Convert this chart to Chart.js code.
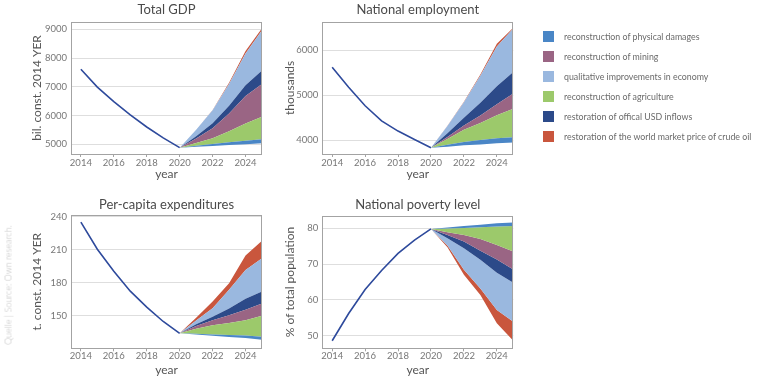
<!DOCTYPE html>
<html>
<head>
<meta charset="utf-8">
<script src="https://cdn.jsdelivr.net/npm/chart.js@4.4.1/dist/chart.umd.min.js"></script>
<style>
  body { margin: 0; background: #fff; font-family: Lato, sans-serif; }
  #page { position: relative; width: 770px; height: 378px; overflow: hidden; }
  .box { position: absolute; }
  #legend { position: absolute; left: 543px; top: 31px; }
  .item { position: relative; height: 20px; }
  .item span.sq { position: absolute; left: 0; top: 0; width: 11px; height: 11px; }
  .item span.txt { position: absolute; left: 21px; top: -1px; font-size: 8.8px; color: #6a6a6a; white-space: nowrap; line-height: 13px; }
  #source { position: absolute; left: 8px; top: 285px; transform: translate(-50%, -50%) rotate(-90deg);
            font-size: 9px; color: #c4c4c4; white-space: nowrap; font-weight: 300; }
</style>
</head>
<body>
<div id="page">
  <div class="box" style="left:0;top:0"><canvas id="gdpChart" width="270" height="185"></canvas></div>
  <div class="box" style="left:260px;top:0"><canvas id="empChart" width="260" height="185"></canvas></div>
  <div class="box" style="left:0;top:190px"><canvas id="pcChart" width="270" height="188"></canvas></div>
  <div class="box" style="left:260px;top:190px"><canvas id="povChart" width="260" height="188"></canvas></div>
  <div id="legend"></div>
  <div id="source">Quelle | Source: Own research.</div>
</div>
<script>
// years
const histYears = [2014, 2015, 2016, 2017, 2018, 2019, 2020];
const projYears = [2020, 2021, 2022, 2023, 2024, 2025];
const xTicks = [2014, 2016, 2018, 2020, 2022, 2024];

// Total GDP (bil. const. 2014 YER)
const gdpHistory = [7610, 6990, 6480, 6020, 5600, 5220, 4880];
const gdpBase = [4880, 4910, 4940, 4970, 5000, 5035];
const gdpPhysical = [0, 35, 70, 100, 125, 140];
const gdpAgriculture = [0, 95, 200, 380, 600, 780];
const gdpMining = [0, 160, 350, 620, 950, 1140];
const gdpUsd = [0, 80, 170, 270, 380, 470];
const gdpQualitative = [0, 220, 450, 760, 1100, 1400];
const gdpOil = [0, 5, 10, 40, 90, 70];
const gdpTicks = [5000, 6000, 7000, 8000, 9000];

// National employment (thousands)
const empHistory = [5620, 5175, 4765, 4430, 4205, 4020, 3835];
const empBase = [3835, 3860, 3890, 3910, 3935, 3950];
const empPhysical = [0, 40, 75, 95, 110, 120];
const empAgriculture = [0, 130, 270, 380, 510, 630];
const empMining = [0, 45, 95, 165, 245, 335];
const empUsd = [0, 80, 170, 280, 400, 480];
const empQualitative = [0, 160, 345, 600, 880, 960];
const empOil = [0, 5, 10, 30, 60, 20];
const empTicks = [4000, 5000, 6000];

// Per-capita expenditures (t. const. 2014 YER)
const pcHistory = [235, 210.5, 190.5, 172.5, 158, 145, 134.3];
const pcBase = [134.3, 133.2, 132, 131, 130, 128.5];
const pcPhysical = [0, 0.7, 1.2, 1.7, 2.2, 2.7];
const pcAgriculture = [0, 4.5, 8.5, 11, 14, 19];
const pcMining = [0, 2.5, 4.5, 7, 9.5, 11];
const pcUsd = [0, 1.5, 3.2, 6, 10, 11];
const pcQualitative = [0, 3.5, 7.6, 17, 26, 30];
const pcOil = [0, 2.5, 6, 6, 13, 16];
const pcTicks = [150, 180, 210, 240];

// National poverty level (% of total population) - reductions are negative
const povHistory = [48.6, 56.2, 62.9, 68.2, 73.0, 76.7, 79.8];
const povBase = [79.8, 80.2, 80.6, 81.0, 81.4, 81.6];
const povPhysical = [0, -0.3, -0.5, -0.7, -0.9, -1.0];
const povAgriculture = [0, -1.0, -2.0, -3.3, -5.2, -7.1];
const povMining = [0, -0.8, -1.8, -3.3, -4.0, -5.0];
const povUsd = [0, -0.9, -1.9, -2.5, -3.7, -3.7];
const povQualitative = [0, -2.0, -6.0, -8.0, -10.4, -10.9];
const povOil = [0, -0.5, -1.4, -1.8, -3.7, -5.3];
const povTicks = [50, 60, 70, 80];

// legend labels (legend order) and colours
const legendKeys = ['physical', 'mining', 'qualitative', 'agriculture', 'usd', 'oil'];
const legendLabels = {
  physical: 'reconstruction of physical damages',
  mining: 'reconstruction of mining',
  qualitative: 'qualitative improvements in economy',
  agriculture: 'reconstruction of agriculture',
  usd: 'restoration of offical USD inflows',
  oil: 'restoration of the world market price of crude oil'
};
const colors = {
  physical: '#4a86c6',
  mining: '#9a6584',
  qualitative: '#9ab8df',
  agriculture: '#9cc96b',
  usd: '#2c4a89',
  oil: '#c9563d'
};
const lineColor = '#2e4a9c';
const frameColor = '#a3a3a3';
// stacking order from the baseline outward
const stackKeys = ['physical', 'agriculture', 'mining', 'usd', 'qualitative', 'oil'];

function toPoints(xs, ys) {
  return xs.map((x, i) => ({ x: x, y: ys[i] }));
}

// running totals of the layers on top of the baseline
function stackUp(base, layers) {
  let out = [];
  let run = base.slice();
  layers.forEach(layer => {
    run = run.map((v, i) => v + layer[i]);
    out.push(run.slice());
  });
  return out;
}

// grey box around the plot area
const framePlugin = {
  id: 'plotFrame',
  afterDraw(chart) {
    const a = chart.chartArea;
    const ctx = chart.ctx;
    const l = Math.round(a.left), r = Math.round(a.right), t = Math.round(a.top), b = Math.round(a.bottom);
    ctx.save();
    ctx.strokeStyle = frameColor;
    ctx.lineWidth = 1;
    ctx.strokeRect(l + 0.5, t + 0.5, r - l - 1, b - t);
    ctx.restore();
  }
};

function makeChart(id, cfg) {
  const stacked = stackUp(cfg.base, cfg.layers);
  let datasets = [];
  datasets.push({ data: toPoints(projYears, cfg.base), borderColor: 'transparent', borderWidth: 0, pointRadius: 0, fill: false });
  stacked.forEach((vals, i) => {
    datasets.push({
      data: toPoints(projYears, vals),
      backgroundColor: colors[stackKeys[i]],
      borderColor: 'transparent',
      borderWidth: 0,
      pointRadius: 0,
      fill: '-1'
    });
  });
  datasets.push({ data: toPoints(histYears, cfg.history), borderColor: lineColor, borderWidth: 1.6, pointRadius: 0, fill: false });

  return new Chart(document.getElementById(id), {
    type: 'line',
    data: { datasets: datasets },
    plugins: [framePlugin],
    options: {
      responsive: false,
      animation: false,
      layout: { padding: cfg.padding },
      elements: { line: { tension: 0 } },
      plugins: {
        legend: { display: false },
        tooltip: { enabled: false },
        title: {
          display: true,
          fullSize: false,
          text: cfg.title,
          color: '#4a4a4a',
          font: { family: 'Lato', size: 13, weight: 'normal' },
          padding: cfg.titlePad
        }
      },
      scales: {
        x: {
          type: 'linear',
          min: 2013.4,
          max: 2025,
          afterBuildTicks: s => { s.ticks = xTicks.map(v => ({ value: v })); },
          afterFit: s => { s.height = cfg.xHeight; },
          grid: { display: true, drawOnChartArea: false, drawTicks: true, tickLength: 3, color: frameColor, lineWidth: 1 },
          border: { display: false },
          ticks: { color: '#777', font: { family: 'Lato', size: 9.5 }, padding: cfg.xTickPad, maxRotation: 0, callback: v => String(v) },
          title: { display: true, text: 'year', color: '#555', font: { family: 'Lato', size: 12 }, padding: 0 }
        },
        y: {
          min: cfg.min,
          max: cfg.max,
          afterBuildTicks: s => { s.ticks = cfg.ticks.map(v => ({ value: v })); },
          afterFit: s => { s.width = cfg.yWidth; },
          grid: { color: '#dedede', drawTicks: false },
          border: { display: false },
          ticks: { color: '#777', font: { family: 'Lato', size: 9.5 }, padding: 4, callback: v => String(v) },
          title: { display: true, text: cfg.yTitle, color: '#555', font: { family: 'Lato', size: 12 }, padding: 0 }
        }
      }
    }
  });
}

makeChart('gdpChart', {
  title: 'Total GDP', yTitle: 'bil. const. 2014 YER',
  history: gdpHistory, base: gdpBase,
  layers: [gdpPhysical, gdpAgriculture, gdpMining, gdpUsd, gdpQualitative, gdpOil],
  min: 4660, max: 9255, ticks: gdpTicks,
  padding: { left: 30, right: 8, top: 0, bottom: 4 },
  titlePad: { top: 2, bottom: 4.4 }, yWidth: 41, xHeight: 27, xTickPad: 0
});

makeChart('empChart', {
  title: 'National employment', yTitle: 'thousands',
  history: empHistory, base: empBase,
  layers: [empPhysical, empAgriculture, empMining, empUsd, empQualitative, empOil],
  min: 3697, max: 6627, ticks: empTicks,
  padding: { left: 22.8, right: 6.7, top: 0, bottom: 4 },
  titlePad: { top: 2, bottom: 4.1 }, yWidth: 39.5, xHeight: 27, xTickPad: 0
});

makeChart('pcChart', {
  title: 'Per-capita expenditures', yTitle: 't. const. 2014 YER',
  history: pcHistory, base: pcBase,
  layers: [pcPhysical, pcAgriculture, pcMining, pcUsd, pcQualitative, pcOil],
  min: 120.7, max: 241.5, ticks: pcTicks,
  padding: { left: 30, right: 8, top: 0, bottom: 0.8 },
  titlePad: { top: 7.2, bottom: 2.2 }, yWidth: 41, xHeight: 28.9, xTickPad: -1
});

makeChart('povChart', {
  title: 'National poverty level', yTitle: '% of total population',
  history: povHistory, base: povBase,
  layers: [povPhysical, povAgriculture, povMining, povUsd, povQualitative, povOil],
  min: 46.5, max: 83.5, ticks: povTicks,
  padding: { left: 22.8, right: 6.7, top: 0, bottom: 0.8 },
  titlePad: { top: 7.5, bottom: 2.6 }, yWidth: 39.5, xHeight: 28.9, xTickPad: -1
});

// legend on the right
const legendEl = document.getElementById('legend');
legendKeys.forEach(k => {
  const row = document.createElement('div');
  row.className = 'item';
  row.innerHTML = '<span class="sq" style="background:' + colors[k] + '"></span><span class="txt">' + legendLabels[k] + '</span>';
  legendEl.appendChild(row);
});
</script>
</body>
</html>
